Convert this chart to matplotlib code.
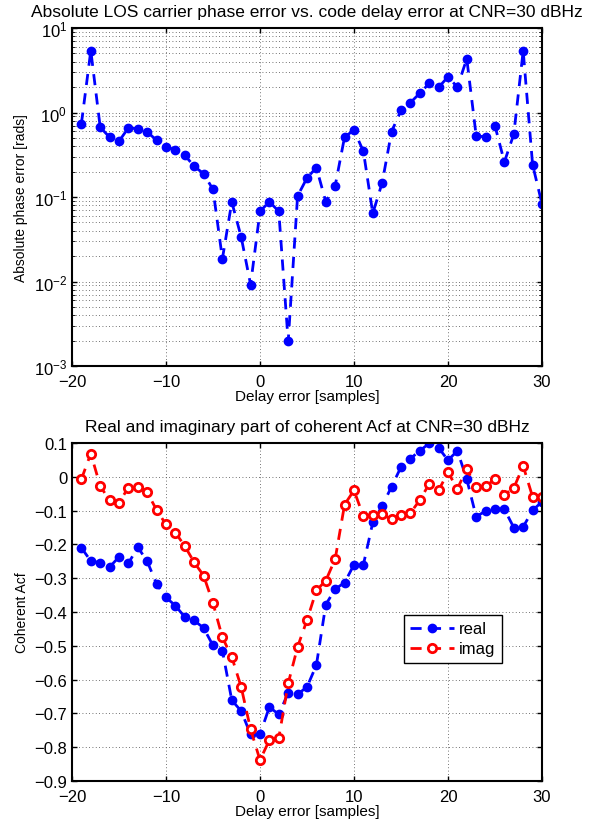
import numpy as np
import matplotlib
matplotlib.use('Agg')
import matplotlib.pyplot as plt

plt.rcParams['font.family'] = ['Liberation Sans', 'DejaVu Sans']

# delay axis
delay = list(range(-19, 31))

# absolute LOS carrier phase error [rads]
phase_err = [0.74, 5.4, 0.67, 0.51, 0.457, 0.66, 0.64, 0.59, 0.47, 0.395,
             0.36, 0.312, 0.231, 0.189, 0.123, 0.0186, 0.0873, 0.0336, 0.0092, 0.0676,
             0.088, 0.0676, 0.00196, 0.103, 0.168, 0.223, 0.088, 0.136, 0.515, 0.618,
             0.348, 0.064, 0.148, 0.595, 1.06, 1.31, 1.69, 2.21, 1.98, 2.65,
             2.0, 4.33, 0.529, 0.515, 0.695, 0.26, 0.553, 5.38, 0.242, 0.083]

# coherent Acf
acf_real = [-0.210, -0.249, -0.254, -0.267, -0.237, -0.256, -0.208, -0.250, -0.317, -0.357,
            -0.381, -0.415, -0.425, -0.447, -0.499, -0.514, -0.661, -0.693, -0.762, -0.762,
            -0.681, -0.703, -0.639, -0.643, -0.622, -0.557, -0.378, -0.332, -0.313, -0.260,
            -0.260, -0.135, -0.086, -0.029, 0.029, 0.054, 0.077, 0.099, 0.086, 0.049,
            0.077, -0.007, -0.118, -0.101, -0.094, -0.096, -0.150, -0.148, -0.099, -0.074]
acf_imag = [-0.007, 0.069, -0.027, -0.070, -0.076, -0.032, -0.030, -0.046, -0.098, -0.141,
            -0.165, -0.205, -0.253, -0.292, -0.374, -0.475, -0.533, -0.622, -0.747, -0.838,
            -0.779, -0.772, -0.611, -0.503, -0.424, -0.336, -0.307, -0.243, -0.082, -0.040,
            -0.117, -0.113, -0.111, -0.126, -0.112, -0.107, -0.069, -0.021, -0.040, 0.013,
            -0.035, 0.023, -0.031, -0.028, -0.007, -0.053, -0.033, 0.032, -0.059, -0.059]

fig = plt.figure(figsize=(6, 8.2), dpi=100)
ax1 = fig.add_axes([0.12, 0.5524, 0.7833, 0.4122])
ax2 = fig.add_axes([0.12, 0.0463, 0.7833, 0.4122])

grid_kw = dict(color='#444444', linestyle=(0, (1, 3)), linewidth=0.6)

# top: phase error
ax1.semilogy(delay, phase_err, '--', color='#0000ff', linewidth=2, marker='o',
             markersize=6, dashes=(4, 3))
ax1.set_xlim(-20, 30)
ax1.set_ylim(1e-3, 1e1)
ax1.grid(True, which='both', **grid_kw)
ax1.set_title('Absolute LOS carrier phase error vs. code delay error at CNR=30 dBHz',
              fontsize=12.5, pad=9)
ax1.set_xlabel('Delay error [samples]', fontsize=11, labelpad=0)
ax1.set_ylabel('Absolute phase error [rads]', fontsize=10, labelpad=4)

# bottom: coherent Acf
ax2.plot(delay, acf_real, '--', color='#0000ff', linewidth=2, marker='o',
         markersize=6, dashes=(4, 3), label='real')
ax2.plot(delay, acf_imag, '--', color='#ff0000', linewidth=2, marker='o',
         markersize=6, markerfacecolor='white', markeredgewidth=2, dashes=(4, 3),
         label='imag')
ax2.set_xlim(-20, 30)
ax2.set_ylim(-0.9, 0.1)
ax2.set_yticks(np.arange(-0.9, 0.11, 0.1))
ax2.set_yticklabels(['\u22120.9', '\u22120.8', '\u22120.7', '\u22120.6', '\u22120.5',
                     '\u22120.4', '\u22120.3', '\u22120.2', '\u22120.1', '0', '0.1'])
ax2.grid(True, **grid_kw)
ax2.set_title('Real and imaginary part of coherent Acf at CNR=30 dBHz',
              fontsize=12.5, pad=9)
ax2.set_xlabel('Delay error [samples]', fontsize=11, labelpad=0)
ax2.set_ylabel('Coherent Acf', fontsize=10, labelpad=4)
leg = ax2.legend(loc='lower left', bbox_to_anchor=(0.706, 0.349), fontsize=12,
                 fancybox=False, edgecolor='black', framealpha=1, handlelength=2.6,
                 borderpad=0.4, labelspacing=0.3, handletextpad=0.3, borderaxespad=0)
leg.get_frame().set_linewidth(1)

for ax in (ax1, ax2):
    ax.set_xticks([-20, -10, 0, 10, 20, 30])
    ax.tick_params(labelsize=12, direction='in', top=True, right=True, width=1)
    ax.tick_params(axis='x', pad=6)
    ax.tick_params(which='minor', direction='in', top=True, right=True)
    for s in ax.spines.values():
        s.set_linewidth(1.5)

fig.savefig('out.png', dpi=100)
